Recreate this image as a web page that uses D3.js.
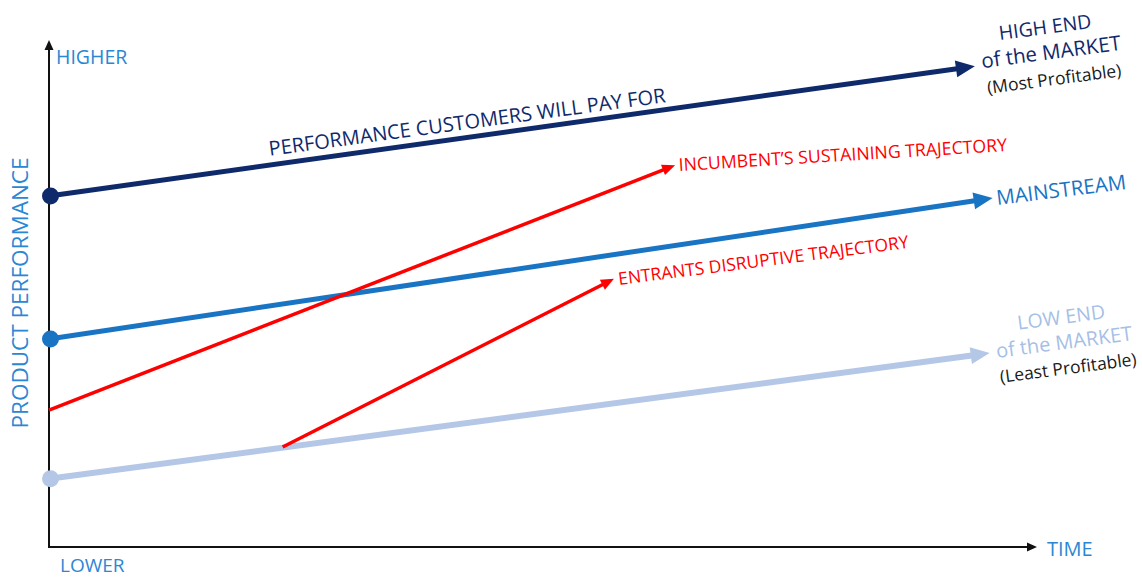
<!DOCTYPE html>
<html>
<head>
<meta charset="utf-8">
<script src="https://cdn.jsdelivr.net/npm/d3@7"></script>
<style>
  html, body { margin: 0; padding: 0; background: #fff; }
  svg { display: block; font-family: "Open Sans", "Noto Sans", sans-serif; }
</style>
</head>
<body>
<svg id="chart" width="1142" height="578"></svg>
<script>
// Market trajectories: start/end points in relative (time, performance) units, 0–100.
const marketNames = ["HIGH END", "MAINSTREAM", "LOW END"];
const marketStart = [[0, 69.5], [0, 41.2], [0, 13.5]];
const marketEnd   = [[93.9, 95.2], [95.7, 69.1], [95.4, 38.4]];

const trajectoryNames = ["INCUMBENT’S SUSTAINING TRAJECTORY", "ENTRANTS DISRUPTIVE TRAJECTORY"];
const trajectoryStart = [[0, 27.1], [23.7, 19.8]];
const trajectoryEnd   = [[63.5, 75.6], [57.3, 53.1]];

const axisLabels = { yHigh: "HIGHER", yLow: "LOWER", x: "TIME", y: "PRODUCT PERFORMANCE" };

const svg = d3.select("#chart");
const x = d3.scaleLinear().domain([0, 100]).range([49, 1035]);
const y = d3.scaleLinear().domain([0, 100]).range([547, 42]);

const marketColors = ["#0f2a6b", "#1a74c4", "#b4c7e7"];
const marketWidths = [5, 5, 6];
const red = "#ff0000";

// Draw a shaft that stops at the arrowhead base, then a filled triangle head.
function arrow(g, p0, p1, color, width, headLen, headW) {
  const x0 = x(p0[0]), y0 = y(p0[1]), x1 = x(p1[0]), y1 = y(p1[1]);
  const dx = x1 - x0, dy = y1 - y0, L = Math.hypot(dx, dy);
  const ux = dx / L, uy = dy / L, nx = -uy, ny = ux;
  const bx = x1 - ux * headLen, by = y1 - uy * headLen;
  g.append("line")
    .attr("x1", x0).attr("y1", y0).attr("x2", bx + ux).attr("y2", by + uy)
    .attr("stroke", color).attr("stroke-width", width);
  g.append("path")
    .attr("d", `M${x1},${y1}L${bx + nx * headW / 2},${by + ny * headW / 2}L${bx - nx * headW / 2},${by - ny * headW / 2}Z`)
    .attr("fill", color);
}

// Axes with arrowheads
const axes = svg.append("g");
axes.append("line").attr("x1", x(0)).attr("y1", y(0)).attr("x2", x(0)).attr("y2", y(100) + 6)
  .attr("stroke", "#111").attr("stroke-width", 2);
axes.append("path").attr("d", `M${x(0)},${y(100) - 2}l-4.5,10h9Z`).attr("fill", "#111");
axes.append("line").attr("x1", x(0) - 1).attr("y1", y(0)).attr("x2", x(100) - 6).attr("y2", y(0))
  .attr("stroke", "#111").attr("stroke-width", 2);
axes.append("path").attr("d", `M${x(100) + 2},${y(0)}l-10,-4.5v9Z`).attr("fill", "#111");

// Market lines (bottom to top so the top one overlays)
const marks = svg.append("g");
[2, 1, 0].forEach(i => {
  arrow(marks, marketStart[i], marketEnd[i], marketColors[i], marketWidths[i], 19, 17);
});

// Red trajectories
trajectoryNames.forEach((n, i) => {
  arrow(marks, trajectoryStart[i], trajectoryEnd[i], red, 3.5, 13, 11);
});

// Start dots on the vertical axis
marketStart.forEach((p, i) => {
  marks.append("circle").attr("cx", x(p[0]) + 1.5).attr("cy", y(p[1])).attr("r", 8.5)
    .attr("fill", marketColors[i]);
});

// Text
const t = svg.append("g");
function label(txt, px, py, opts) {
  const o = Object.assign({ size: 17, color: "#000", anchor: "start", rot: 0 }, opts);
  return t.append("text")
    .attr("x", px).attr("y", py)
    .attr("transform", o.rot ? `rotate(${o.rot},${px},${py})` : null)
    .attr("text-anchor", o.anchor)
    .attr("font-size", o.size)
    .attr("fill", o.color)
    .text(txt);
}

const axisBlue = "#2b87d3";
label(axisLabels.yHigh, 56, 64, { size: 19.5, color: axisBlue });
label(axisLabels.yLow, 60, 572, { size: 19, color: axisBlue });
label(axisLabels.x, 1047, 556, { size: 20, color: axisBlue });
label(axisLabels.y, 28, 293, { size: 22.5, color: axisBlue, anchor: "middle", rot: -90 });

label("PERFORMANCE CUSTOMERS WILL PAY FOR", 468, 129, { size: 20, color: marketColors[0], anchor: "middle", rot: -7.7 });

label(marketNames[0], 1046, 34, { size: 19.5, color: marketColors[0], anchor: "middle", rot: -7.5 });
label("of the MARKET", 1052, 59, { size: 20.5, color: marketColors[0], anchor: "middle", rot: -7.5 });
label("(Most Profitable)", 1055, 85, { size: 17.5, color: "#1a1a1a", anchor: "middle", rot: -7.5 });

label(marketNames[1], 1062, 197, { size: 20.5, color: "#1a74c4", anchor: "middle", rot: -7 });

label(marketNames[2], 1062, 324, { size: 19.5, color: "#a6bfe6", anchor: "middle", rot: -7.5 });
label("of the MARKET", 1065, 349, { size: 20, color: "#a6bfe6", anchor: "middle", rot: -7.5 });
label("(Least Profitable)", 1069, 374, { size: 17.5, color: "#1a1a1a", anchor: "middle", rot: -7.5 });

label(trajectoryNames[0], 679, 171, { size: 17.7, color: red, rot: -3.5 });
label(trajectoryNames[1], 619, 285, { size: 17.5, color: red, rot: -7.3 });
</script>
</body>
</html>
